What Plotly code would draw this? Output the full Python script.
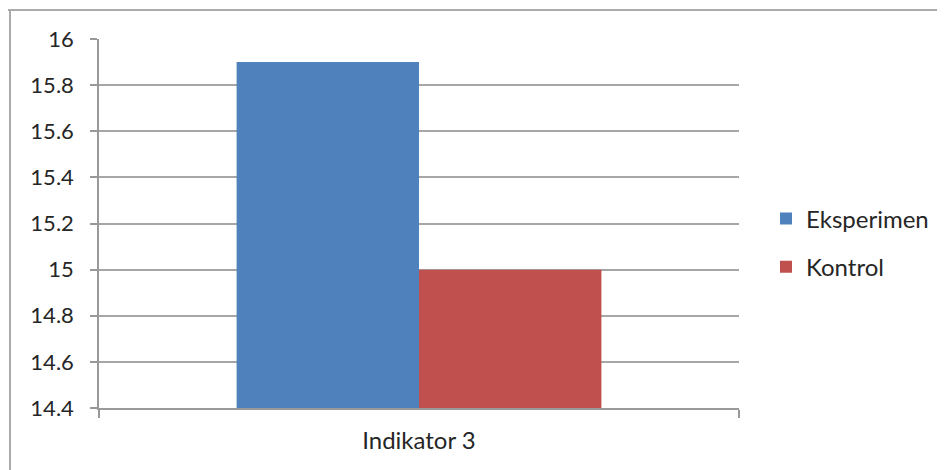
import plotly.graph_objects as go

categories = ["Indikator 3"]
eksperimen = [15.9]
kontrol = [15.0]
series_names = ["Eksperimen", "Kontrol"]
y_ticks = [14.4, 14.6, 14.8, 15.0, 15.2, 15.4, 15.6, 15.8, 16.0]
y_tick_labels = ["14.4", "14.6", "14.8", "15", "15.2", "15.4", "15.6", "15.8", "16"]

# the page is offset by the browser's default 8px body margin
OFF = 8
W, H = 945, 470
L, T = 99 - OFF, 39 - OFF
PR, PB = 739 - OFF, 408 - OFF
R, B = W - PR, H - PB
pw, ph = PR - L, PB - T

fig = go.Figure()
fig.add_trace(go.Bar(x=categories, y=eksperimen, name=series_names[0],
                     marker=dict(color="#4f81bd", line=dict(width=0)),
                     legendgroup="a"))
fig.add_trace(go.Bar(x=categories, y=kontrol, name=series_names[1],
                     marker=dict(color="#c0504d", line=dict(width=0)),
                     legendgroup="b"))

font = "Lato, 'Open Sans', sans-serif"
txt = "#262626"
fig.update_layout(
    width=W, height=H,
    margin=dict(l=L, r=R, t=T, b=B, pad=0),
    paper_bgcolor="white", plot_bgcolor="white",
    barmode="group", bargap=0.43, bargroupgap=0,
    font=dict(family=font, size=24, color=txt),
    showlegend=True,
    legend=dict(x=(766 - OFF - L) / pw, xanchor="left",
                y=(PB - (243 - OFF)) / ph, yanchor="middle",
                font=dict(size=24, color=txt), tracegroupgap=14,
                traceorder="grouped", itemwidth=30, bgcolor="rgba(0,0,0,0)"),
    xaxis=dict(type="category", showgrid=False, showline=True, linecolor="#999",
               linewidth=1.5, ticks="outside", tickson="boundaries", ticklen=8,
               tickcolor="#999", tickwidth=1.5, tickfont=dict(size=24, color=txt),
               ticklabelstandoff=10),
    yaxis=dict(range=[14.4, 16.0], tickvals=y_ticks, ticktext=y_tick_labels,
               showgrid=True, gridcolor="#a6a6a6", gridwidth=1.5,
               showline=True, linecolor="#999", linewidth=1.5,
               ticks="outside", ticklen=7, tickcolor="#999", tickwidth=1.5,
               tickfont=dict(size=22, color=txt), zeroline=False,
               ticklabelstandoff=12),
)

# outer frame lines (left and top)
fx = (10 - OFF - L) / pw
fy = (PB - (10 - OFF)) / ph
fig.add_shape(type="line", xref="paper", yref="paper",
              x0=fx, x1=fx, y0=fy, y1=-(B + 20) / ph,
              line=dict(color="#ababab", width=2))
fig.add_shape(type="line", xref="paper", yref="paper",
              x0=(6 - OFF - L) / pw, x1=(W + 20 - L) / pw, y0=fy, y1=fy,
              line=dict(color="#ababab", width=2))

fig.write_html("out.html")
